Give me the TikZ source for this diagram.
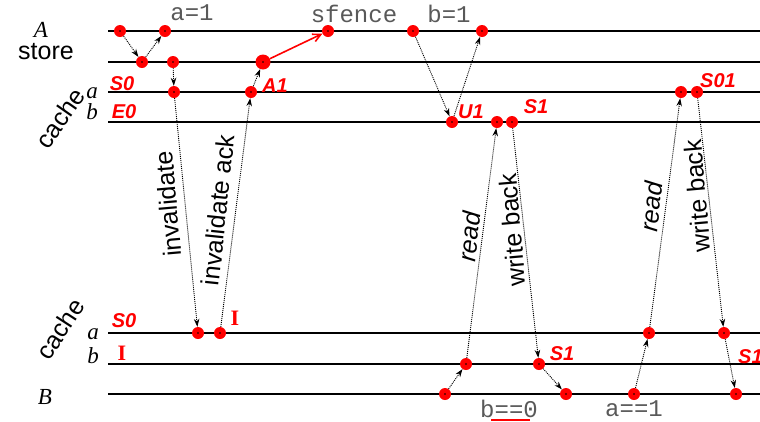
\documentclass[tikz,border=0pt]{standalone}
\usepackage{fontspec}
\setmainfont{Liberation Serif}
\setsansfont{Liberation Sans}
\setmonofont{Liberation Mono}
\usetikzlibrary{arrows.meta}
\begin{document}
\begin{tikzpicture}[x=1pt,y=-1pt,
  tl/.style={line width=1.2pt,black},
  pt/.style={circle,fill=red,minimum size=12pt,inner sep=0pt,
    path picture={\fill[black] (path picture bounding box.center) circle (0.9pt);}},
  bigpt/.style={pt,minimum size=15pt},
  conn/.style={line width=0.9pt,dash pattern=on 1pt off 1pt,-{Stealth[length=8pt,width=5.5pt]}},
  redarr/.style={red,line width=1.6pt,-{Straight Barb[length=8pt,width=8pt]}},
  code/.style={font=\ttfamily\fontsize{24}{28}\selectfont,text=black!65,inner sep=0pt},
  lab/.style={font=\sffamily\fontsize{25}{30}\selectfont,inner sep=0pt},
  var/.style={font=\itshape\fontsize{23}{26}\selectfont,inner sep=0pt},
  hand/.style={font=\sffamily\itshape\bfseries\fontsize{20}{22}\selectfont,text=red,inner sep=0pt},
  handI/.style={font=\rmfamily\bfseries\fontsize{22}{24}\selectfont,text=red,inner sep=0pt},
]
\useasboundingbox (0,0) rectangle (760,421);
% timelines
\foreach \y in {31,62,92,122,333,364,394} \draw[tl] (108,\y) -- (760,\y);
% left labels
\node[var] (lA) at (41,30) {A};
\node[lab] (lstore) at (46,52) {store};
\node[lab,rotate=55] (lcacheA) at (60,118) {cache};
\node[var] (la1) at (92,93) {a};
\node[var] (lb1) at (92,112) {b};
\node[lab,rotate=57] (lcacheB) at (60,329) {cache};
\node[var] (la2) at (93,334) {a};
\node[var] (lb2) at (93,356) {b};
\node[var] (lB) at (45,397) {B};
% code labels
\node[code] (c1) at (192,13) {a=1};
\node[code] (c2) at (354,14) {sfence};
\node[code] (c3) at (449,14) {b=1};
\node[code] (c4) at (509,409) {b==0};
\node[code] (c5) at (634,409) {a==1};
\draw[red,line width=1.2pt] (491,420) -- (530,420);
% points
\node[pt] (a1) at (120,31) {};
\node[pt] (a2) at (165,31) {};
\node[pt] (a3) at (328,31) {};
\node[pt] (a4) at (413,31) {};
\node[pt] (a5) at (482,31) {};
\node[pt] (s1) at (142,62) {};
\node[pt] (s2) at (173,62) {};
\node[bigpt] (s3) at (263,62) {};
\node[pt] (ca1) at (174,92) {};
\node[pt] (ca2) at (251,92) {};
\node[pt] (ca3) at (681,92) {};
\node[pt] (ca4) at (697,92) {};
\node[pt] (cb1) at (452,122) {};
\node[pt] (cb2) at (497,122) {};
\node[pt] (cb3) at (512,122) {};
\node[pt] (da1) at (198,333) {};
\node[pt] (da2) at (220,333) {};
\node[pt] (da3) at (649,333) {};
\node[pt] (da4) at (724,333) {};
\node[pt] (db1) at (466,364) {};
\node[pt] (db2) at (539,364) {};
\node[pt] (b1) at (445,394) {};
\node[pt] (b2) at (566,394) {};
\node[pt] (b3) at (634,394) {};
\node[pt] (b4) at (736,394) {};
% connectors
\draw[conn] (a1) -- (s1);
\draw[conn] (s1) -- (a2);
\draw[conn] (s2) -- (ca1);
\draw[conn] (ca1) -- (da1);
\draw[conn] (da2) -- (ca2);
\draw[conn] (ca2) -- (s3);
\draw[redarr] (s3) -- (a3);
\draw[conn] (a4) -- (cb1);
\draw[conn] (cb1) -- (a5);
\draw[conn] (db1) -- (cb2);
\draw[conn] (cb3) -- (db2);
\draw[conn] (b1) -- (db1);
\draw[conn] (db2) -- (b2);
\draw[conn] (b3) -- (da3);
\draw[conn] (da3) -- (ca3);
\draw[conn] (ca4) -- (da4);
\draw[conn] (da4) -- (b4);
% message labels
\node[lab,rotate=95] (m1) at (168,204) {invalidate};
\node[lab,rotate=84] (m2) at (218,210) {invalidate ack};
\node[lab,rotate=84] (m3) at (469,237) {\itshape read};
\node[lab,rotate=95] (m4) at (512,230) {write back};
\node[lab,rotate=84] (m5) at (651,207) {\itshape read};
\node[lab,rotate=95] (m6) at (697,196) {write back};
% handwritten state labels
\node[hand] (h1) at (122,84) {S0};
\node[hand] (h2) at (124,112) {E0};
\node[hand] (h3) at (275,86) {A1};
\node[hand] (h4) at (471,112) {U1};
\node[hand] (h5) at (536,107) {S1};
\node[hand] (h6) at (718,81) {S01};
\node[hand] (h7) at (124,321) {S0};
\node[handI] (h8) at (122,353) {I};
\node[handI] (h9) at (235,318) {I};
\node[hand] (h10) at (562,354) {S1};
\node[hand,anchor=west] (h11) at (738,357) {S1};
\end{tikzpicture}
\end{document}
